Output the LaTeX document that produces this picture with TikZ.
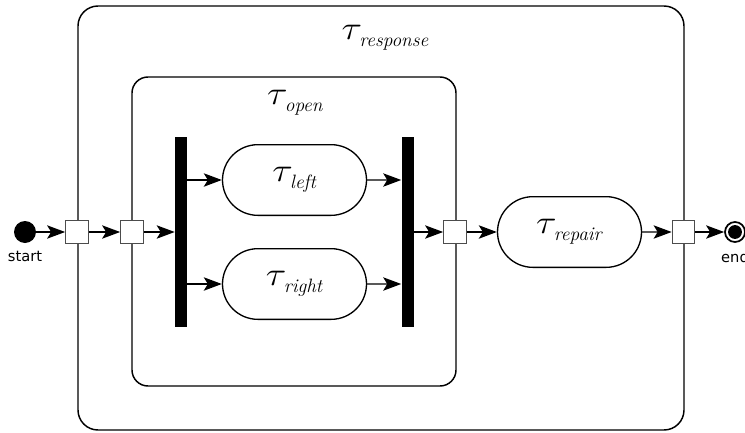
\documentclass[tikz,border=0pt]{standalone}
\usepackage{fontspec}
\usepackage{graphicx}
\usetikzlibrary{arrows.meta,shapes.misc,positioning}
\newfontfamily\pinfont{DejaVu Sans}
\newcommand{\taskname}[1]{\scalebox{1.15}[1]{$\tau$}\hspace{-2pt}\raisebox{-5pt}{\fontsize{14.5}{16}\selectfont\textit{#1}}}

\begin{document}
\begin{tikzpicture}[x=0.75pt, y=-0.75pt, >={Stealth[length=13.5pt,width=10pt,inset=3pt]}]
        \tikzstyle{frame}=[draw, line width=1.1pt, rounded corners=15pt]
        \tikzstyle{task}=[rounded rectangle, draw, line width=1pt, minimum width=108pt, minimum height=53pt, inner sep=0pt, font=\fontsize{34}{38}\selectfont]
        \tikzstyle{port}=[draw=black!70, fill=white, line width=0.8pt, minimum size=17pt, inner sep=0pt]
        \tikzstyle{bar}=[fill=black, minimum width=9pt, minimum height=142.5pt, inner sep=0pt]
        \tikzstyle{flow}=[->, line width=1.1pt]
        \tikzstyle{tag}=[font=\pinfont\fontsize{11}{13}\selectfont, inner sep=1pt]
        \useasboundingbox (0,0) rectangle (745,432);
        \draw[frame] (78,6) rectangle (684,430);
        \draw[frame, rounded corners=12pt] (132,77) rectangle (456,386);
        \node[font=\fontsize{34}{38}\selectfont] (response) at (385,38) {\taskname{response}};
        \node[font=\fontsize{34}{38}\selectfont] (open) at (295,103) {\taskname{open}};
        \node[circle, fill=black, minimum size=16.5pt, inner sep=0pt] (start) at (25,232) {};
        \node[tag, below=5pt of start] (startlabel) {start};
        \node[port] (p1) at (77,232) {};
        \node[port] (p2) at (132,232) {};
        \node[bar] (fork) at (181,232) {};
        \node[task] (left) at (294.5,180) {\taskname{left}};
        \node[task] (right) at (294.5,284) {\taskname{right}};
        \node[bar] (join) at (407.5,232) {};
        \node[port] (p3) at (455,232) {};
        \node[task] (repair) at (569.5,232) {\taskname{repair}};
        \node[port] (p4) at (683.5,232) {};
        \node[circle, draw, line width=1.3pt, minimum size=15pt, inner sep=0pt] (end) at (735,232) {};
        \fill (end) circle (5.2pt);
        \node[tag, below=5pt of end] (endlabel) {end};
        \draw[flow] (start) -- (p1);
        \draw[flow] (p1) -- (p2);
        \draw[flow] (p2) -- (fork);
        \draw[flow] (fork.east |- left) -- (left);
        \draw[flow] (fork.east |- right) -- (right);
        \draw[flow] (left) -- (join.west |- left);
        \draw[flow] (right) -- (join.west |- right);
        \draw[flow] (join) -- (p3);
        \draw[flow] (p3) -- (repair);
        \draw[flow] (repair) -- (p4);
        \draw[flow] (p4) -- (end);
    \end{tikzpicture}
\end{document}
